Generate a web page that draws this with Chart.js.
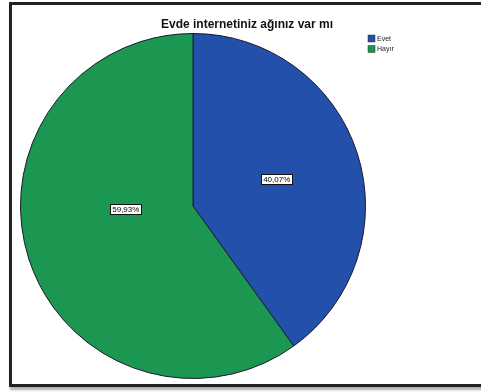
<!DOCTYPE html>
<html>
<head>
<meta charset="utf-8">
<script src="https://cdn.jsdelivr.net/npm/chart.js@4.4.1/dist/chart.umd.min.js"></script>
<style>
  html, body { margin: 0; padding: 0; background: #fff; width: 481px; height: 392px; overflow: hidden; }
  #frame { position: absolute; left: 9px; top: 2px; width: 500px; height: 385px; box-sizing: border-box;
           border: 3px solid #222; background: #fff; box-shadow: 1px 3px 2px #b0b0b0; }
  #wrap { position: absolute; left: 0; top: 0; width: 481px; height: 392px; }
</style>
</head>
<body>
<div id="frame"></div>
<div id="wrap"><canvas id="c" width="481" height="392"></canvas></div>
<script>
const chartTitle = "Evde internetiniz ağınız var mı";
const categories = ["Evet", "Hayır"];
const values = [40.07, 59.93];
const valueLabels = ["40,07%", "59,93%"];
const colors = ["#2250aa", "#1b9752"];

// label placement style (fraction of radius, angle shift in degrees)
const labelRadius = [0.51, 0.39];
const labelAngleShift = [0, 15];

const overlayPlugin = {
  id: 'overlay',
  afterDatasetsDraw(chart) {
    const ctx = chart.ctx;
    const meta = chart.getDatasetMeta(0);
    ctx.save();
    ctx.font = '8px "Liberation Sans", Arial, sans-serif';
    ctx.textAlign = 'center';
    ctx.textBaseline = 'middle';
    meta.data.forEach((arc, i) => {
      const p = arc.getProps(['x', 'y', 'startAngle', 'endAngle', 'outerRadius'], true);
      const mid = (p.startAngle + p.endAngle) / 2 + labelAngleShift[i] * Math.PI / 180;
      const r = p.outerRadius * labelRadius[i];
      const x = p.x + Math.cos(mid) * r;
      const y = p.y + Math.sin(mid) * r;
      const w = ctx.measureText(valueLabels[i]).width + 4;
      const h = 10;
      ctx.fillStyle = '#fff';
      ctx.fillRect(Math.round(x - w / 2) + 0.5, Math.round(y - h / 2) + 0.5, Math.round(w), h);
      ctx.strokeStyle = '#111';
      ctx.lineWidth = 1;
      ctx.strokeRect(Math.round(x - w / 2) + 0.5, Math.round(y - h / 2) + 0.5, Math.round(w), h);
      ctx.fillStyle = '#000';
      ctx.fillText(valueLabels[i], x, y + 0.5);
    });
    // title
    ctx.font = 'bold 12px "Liberation Sans", Arial, sans-serif';
    ctx.fillStyle = '#111';
    ctx.fillText(chartTitle, 247, 25);
    // legend
    ctx.font = '7px "Liberation Sans", Arial, sans-serif';
    ctx.textAlign = 'left';
    categories.forEach((c, i) => {
      const y = 35 + i * 10.5;
      ctx.fillStyle = colors[i];
      ctx.fillRect(368, y, 7, 7);
      ctx.strokeStyle = '#333';
      ctx.lineWidth = 0.5;
      ctx.strokeRect(368, y, 7, 7);
      ctx.fillStyle = '#222';
      ctx.fillText(c, 377, y + 3.8);
    });
    ctx.restore();
  }
};

new Chart(document.getElementById('c'), {
  type: 'pie',
  data: {
    labels: categories,
    datasets: [{
      data: values,
      backgroundColor: colors,
      borderColor: '#1a1a2a',
      borderWidth: 1
    }]
  },
  options: {
    responsive: false,
    animation: false,
    devicePixelRatio: 1,
    layout: { padding: { left: 20, top: 33, right: 115, bottom: 13 } },
    plugins: {
      legend: { display: false },
      title: { display: false },
      tooltip: { enabled: false }
    }
  },
  plugins: [overlayPlugin]
});
</script>
</body>
</html>
